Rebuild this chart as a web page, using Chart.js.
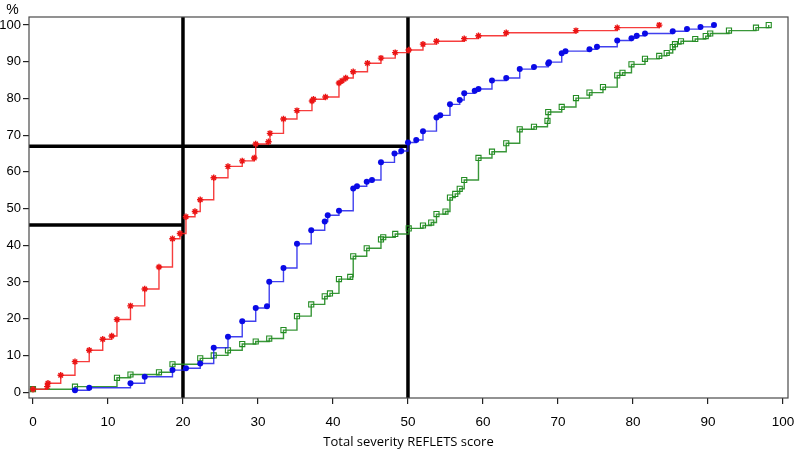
<!DOCTYPE html>
<html>
<head>
<meta charset="utf-8">
<script src="https://cdn.jsdelivr.net/npm/chart.js@4.4.1/dist/chart.umd.min.js"></script>
<style>
  html, body { margin: 0; padding: 0; background: #fff; }
  #wrap { width: 797px; height: 450px; position: relative; }
</style>
</head>
<body>
<div id="wrap"><canvas id="chart" width="797" height="450"></canvas></div>
<script>
// cumulative % of patients by total severity score, one series per group
const redX = [0, 1.9, 2, 3.7, 5.6, 7.5, 9.3, 10.5, 11.2, 13.0, 14.9, 16.8, 18.6, 19.6, 20.4, 21.6, 22.3,
  24.1, 26.0, 27.9, 29.5, 29.7, 31.4, 31.6, 33.4, 35.2, 37.2, 37.4, 39.0, 40.8, 41.2, 41.7, 42.7,
  44.6, 46.4, 48.3, 50.1, 52.0, 53.8, 57.5, 59.4, 63.1, 72.4, 77.9, 83.5];
const redY = [0.8, 1.5, 2.4, 4.6, 8.3, 11.4, 14.4, 15.3, 19.8, 23.5, 28.1, 34.1, 41.8, 43.2, 47.8, 49.2, 52.4,
  58.4, 61.5, 63.0, 63.8, 67.6, 68.2, 70.5, 74.4, 76.7, 79.3, 79.8, 80.4, 84.2, 84.8, 85.6, 87.3,
  89.6, 91.0, 92.5, 93.2, 94.8, 95.6, 96.3, 97.1, 97.9, 98.5, 99.3, 100];

const blueX = [5.6, 7.5, 13.0, 14.9, 18.6, 20.4, 22.3, 24.1, 26.0, 27.9, 29.7, 31.2, 31.5, 33.4, 35.2, 37.1,
  38.9, 39.3, 40.8, 42.7, 43.2, 44.5, 45.2, 46.4, 48.2, 49.1, 50.0, 51.1, 52.0, 53.8, 54.3, 55.6,
  56.9, 57.5, 58.9, 59.4, 61.2, 63.1, 64.9, 66.8, 68.7, 68.8, 70.5, 71.0, 74.2, 75.2, 77.9, 79.8,
  80.5, 81.6, 85.3, 87.2, 89.0, 90.8];
const blueY = [0.5, 1.2, 2.4, 4.2, 6.0, 6.5, 7.8, 12.1, 15.1, 19.3, 22.9, 23.4, 30.1, 33.8, 40.4, 44.1,
  46.5, 48.2, 49.4, 55.5, 56.1, 57.3, 57.8, 62.6, 65.0, 65.7, 68.0, 68.7, 71.1, 74.8, 75.4, 78.4,
  79.6, 81.4, 82.1, 82.6, 84.9, 85.6, 88.0, 88.6, 89.5, 89.9, 92.3, 92.9, 93.4, 94.1, 95.8, 96.4,
  97.1, 97.7, 98.3, 98.9, 99.5, 100];

const greenX = [0, 5.6, 11.2, 13.0, 16.8, 18.6, 22.3, 24.1, 26.0, 27.9, 29.7, 31.5, 33.4, 35.2, 37.1, 38.9,
  39.6, 40.8, 42.3, 42.7, 44.5, 46.4, 46.7, 48.3, 50.1, 52.0, 53.1, 53.8, 55.0, 55.6, 56.3, 56.9,
  57.5, 59.4, 61.2, 63.1, 64.9, 66.8, 68.6, 68.7, 70.5, 72.4, 74.2, 76.0, 77.9, 78.6, 79.8, 81.6,
  83.5, 84.5, 85.3, 85.6, 86.4, 88.3, 89.7, 90.3, 92.8, 96.4, 98.1];
const greenY = [0.8, 1.5, 3.9, 4.8, 5.4, 7.6, 9.2, 10.0, 11.4, 13.1, 13.8, 14.6, 16.9, 20.7, 23.9, 26.1,
  26.9, 30.8, 31.4, 37.0, 39.2, 41.6, 42.2, 43.1, 44.6, 45.4, 46.2, 48.5, 49.2, 53.0, 54.0, 55.4,
  57.8, 63.8, 65.5, 67.8, 71.6, 72.3, 73.9, 76.3, 77.7, 80.1, 81.6, 83.1, 86.3, 87.0, 89.3, 90.8,
  91.6, 92.4, 94.0, 94.8, 95.6, 96.2, 97.0, 97.7, 98.5, 99.3, 100];

// reference cut-offs
const cutScores = [20, 50];
const cutPercents = [45.5, 67];

const xTicks = [0, 10, 20, 30, 40, 50, 60, 70, 80, 90, 100];
const yTicks = [0, 10, 20, 30, 40, 50, 60, 70, 80, 90, 100];
const xMin = -0.53, xMax = 100.67;
const yMin = -1.6, yMax = 102.2;

const toPoints = (xs, ys) => xs.map((x, i) => ({ x, y: ys[i] }));

const refStyle = { borderColor: '#000', borderWidth: 3.5, pointRadius: 0, order: 10 };

const datasets = [
  {
    data: toPoints(redX, redY),
    borderColor: 'rgba(245,40,40,0.9)',
    backgroundColor: 'rgb(235,20,20)',
    pointBorderColor: 'rgb(235,20,20)',
    borderWidth: 1.4,
    stepped: true,
    pointStyle: 'star',
    pointRadius: 3.2,
    pointBorderWidth: 1.4,
    order: 1
  },
  {
    data: toPoints(blueX, blueY),
    borderColor: 'rgba(30,30,235,0.85)',
    backgroundColor: 'rgb(10,10,230)',
    pointBorderColor: 'rgb(10,10,230)',
    borderWidth: 1.4,
    stepped: true,
    pointStyle: 'circle',
    pointRadius: 3,
    pointBorderWidth: 0,
    order: 2
  },
  {
    data: toPoints(greenX, greenY),
    borderColor: 'rgba(35,140,35,0.9)',
    backgroundColor: 'rgba(255,255,255,0)',
    pointBorderColor: 'rgb(35,140,35)',
    borderWidth: 1.4,
    stepped: true,
    pointStyle: 'rect',
    pointRadius: 3.6,
    pointBorderWidth: 1.1,
    order: 3
  },
  // vertical cut-off lines, full height
  ...cutScores.map(s => Object.assign({ data: [{ x: s, y: yMin }, { x: s, y: yMax }] }, refStyle)),
  // horizontal cut-off lines from the left edge to the matching score
  ...cutPercents.map((p, i) => Object.assign({ data: [{ x: xMin, y: p }, { x: cutScores[i], y: p }] }, refStyle))
];

const framePlugin = {
  id: 'frame',
  afterDraw(chart) {
    const { ctx, chartArea: a } = chart;
    ctx.save();
    ctx.strokeStyle = '#4a4a4a';
    ctx.lineWidth = 1.2;
    ctx.strokeRect(a.left, a.top, a.right - a.left, a.bottom - a.top);
    ctx.fillStyle = '#000';
    ctx.font = '14px "Liberation Sans", Arial, sans-serif';
    ctx.textAlign = 'center';
    ctx.textBaseline = 'middle';
    ctx.fillText('%', 12.5, 10);
    ctx.restore();
  }
};

const tickFont = { family: '"Liberation Sans", Arial, sans-serif', size: 13 };

new Chart(document.getElementById('chart'), {
  type: 'line',
  data: { datasets },
  plugins: [framePlugin],
  options: {
    responsive: false,
    animation: false,
    layout: { padding: { top: 17, right: 9, left: 0, bottom: 0 } },
    plugins: { legend: { display: false }, tooltip: { enabled: false } },
    scales: {
      x: {
        type: 'linear',
        min: xMin,
        max: xMax,
        afterBuildTicks: s => { s.ticks = xTicks.map(v => ({ value: v })); },
        afterFit: s => { s.height = 52; s.paddingLeft = 0; s.paddingRight = 0; },
        ticks: { color: '#000', font: { family: tickFont.family, size: 13.5 }, padding: 10, maxRotation: 0, autoSkip: false },
        grid: { drawOnChartArea: false, drawTicks: true, tickLength: 6, tickColor: '#222', lineWidth: 1.2 },
        border: { display: false },
        title: {
          display: true,
          text: 'Total severity REFLETS score',
          color: '#000',
          font: { family: '"Open Sans", sans-serif', size: 13 },
          padding: { top: 0, bottom: 0 }
        }
      },
      y: {
        type: 'linear',
        min: yMin,
        max: yMax,
        afterBuildTicks: s => { s.ticks = yTicks.map(v => ({ value: v })); },
        afterFit: s => { s.width = 29; s.paddingTop = 0; s.paddingBottom = 0; },
        ticks: { color: '#000', font: tickFont, padding: 2, autoSkip: false },
        grid: { drawOnChartArea: false, drawTicks: true, tickLength: 6, tickColor: '#222', lineWidth: 1.2 },
        border: { display: false }
      }
    }
  }
});
</script>
</body>
</html>
